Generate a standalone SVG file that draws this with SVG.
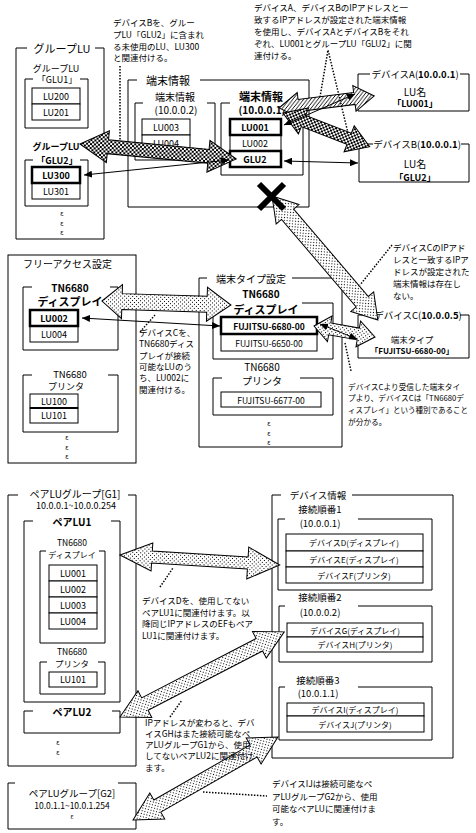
<svg xmlns="http://www.w3.org/2000/svg" width="476" height="833" viewBox="0 0 476 833">
<defs>
<style>
text{font-family:"Noto Sans CJK JP","Noto Sans",sans-serif;fill:#000}
.c{text-anchor:middle;dominant-baseline:central}
.l{dominant-baseline:central}
.b{font-weight:bold}
.a{font-size:8.5px}
.e{font-size:6.5px}
.box{fill:none;stroke:#000;stroke-width:1}
.cell{fill:#fff;stroke:#000;stroke-width:1}
.thick{fill:#fff;stroke:#000;stroke-width:2.5}
.lead{fill:none;stroke:#000;stroke-width:1.5;stroke-dasharray:1.5 1.5}
.arr{stroke:#000;stroke-width:1}
.thin{stroke:#000;stroke-width:1;fill:none;marker-start:url(#ah);marker-end:url(#ah)}
</style>
<pattern id="chk" width="4" height="4" patternUnits="userSpaceOnUse"><rect width="4" height="4" fill="#fff"/><rect width="2" height="2" fill="#000"/><rect x="2" y="2" width="2" height="2" fill="#000"/></pattern>
<pattern id="hat" width="4" height="4" patternUnits="userSpaceOnUse"><rect width="4" height="4" fill="#fff"/><path d="M-1,1 L1,-1 M0,4 L4,0 M3,5 L5,3" stroke="#000" stroke-width="1"/></pattern>
<pattern id="dot" width="4" height="4" patternUnits="userSpaceOnUse"><rect width="4" height="4" fill="#fff"/><rect width="1" height="1" fill="#000"/><rect x="2" y="2" width="1" height="1" fill="#000"/></pattern>
<marker id="ah" markerWidth="8" markerHeight="7" refX="8" refY="3.5" orient="auto-start-reverse" markerUnits="userSpaceOnUse"><path d="M0,0 L8,3.5 L0,7 z" fill="#000"/></marker>
</defs>
<rect width="476" height="833" fill="#fff"/>

<!-- Group LU -->
<g id="groupLU">
<path class="box" d="M27,48 H16 V239 H104 V48 H95"/>
<text class="c" x="62" y="48" font-size="11">グループLU</text>
<text class="c" x="56" y="68" font-size="9">グループLU</text>
<text class="c" x="57" y="79" font-size="9">「GLU1」</text>
<path class="box" d="M33,79 H25 V128 H88 V79 H80"/>
<rect class="cell" x="32" y="88" width="48" height="16"/>
<rect class="cell" x="32" y="104" width="48" height="16"/>
<text class="c" x="56" y="96" font-size="9">LU200</text>
<text class="c" x="56" y="112" font-size="9">LU201</text>
<text class="c b" x="56" y="146" font-size="9">グループLU</text>
<text class="c b" x="57" y="160" font-size="9">「GLU2」</text>
<path class="box" d="M33,160 H25 V206 H88 V160 H80"/>
<rect class="cell" x="32" y="183" width="48" height="16"/>
<rect class="thick" x="32" y="167" width="48" height="16"/>
<text class="c b" x="56" y="175" font-size="9">LU300</text>
<text class="c" x="56" y="191" font-size="9">LU301</text>
<text class="c e" x="62" y="213">ε</text>
<text class="c e" x="62" y="223">ε</text>
<text class="c e" x="62" y="232">ε</text>
</g>

<!-- Terminal info -->
<g id="terminalInfo">
<path class="box" d="M137,80 H128 V207 H309 V80 H200"/>
<text class="c" x="168" y="80" font-size="11">端末情報</text>
<path class="box" d="M143,103 H135 V160 H215 V103 H207"/>
<text class="c" x="175" y="96" font-size="10">端末情報</text>
<text class="c" x="176" y="109" font-size="10">(10.0.0.2)</text>
<rect class="cell" x="142" y="119" width="48" height="16"/>
<rect class="cell" x="142" y="135" width="48" height="16"/>
<text class="c" x="166" y="127" font-size="9">LU003</text>
<text class="c" x="166" y="143" font-size="9">LU004</text>
<path class="box" d="M230,103 H221 V175 H303 V103 H293"/>
<text class="c b" x="261" y="96" font-size="11">端末情報</text>
<text class="c b" x="262" y="109" font-size="10">(10.0.0.1)</text>
<rect class="cell" x="230" y="135" width="51" height="16"/>
<rect class="thick" x="230" y="119" width="51" height="16"/>
<rect class="thick" x="230" y="151" width="51" height="16"/>
<text class="c b" x="255" y="127" font-size="9">LU001</text>
<text class="c" x="255" y="143" font-size="9">LU002</text>
<text class="c b" x="255" y="159" font-size="9">GLU2</text>
</g>

<!-- Device A / B -->
<g id="deviceA">
<path class="box" d="M370,74 H358 V111 H469 V74 H460"/>
<text class="c" x="415" y="74" font-size="9.5">デバイスA(<tspan class="b">10.0.0.1</tspan>)</text>
<text class="c" x="415" y="91" font-size="10">LU名</text>
<text class="c b" x="415" y="103" font-size="9">「LU001」</text>
</g>
<g id="deviceB">
<path class="box" d="M373,144 H359 V182 H469 V144 H461"/>
<text class="c" x="417" y="144" font-size="9.5">デバイスB(<tspan class="b">10.0.0.1</tspan>)</text>
<text class="c" x="415" y="163" font-size="10">LU名</text>
<text class="c b" x="415" y="177" font-size="9">「GLU2」</text>
</g>

<!-- Free access -->
<g id="freeAccess">
<rect class="box" x="8" y="255" width="128" height="208"/>
<text class="l" x="23" y="263" font-size="10">フリーアクセス設定</text>
<path class="box" d="M32,287 H23 V350 H118 V287 H110"/>
<text class="c b" x="70" y="287" font-size="10">TN6680</text>
<text class="c b" x="70" y="301" font-size="11">ディスプレイ</text>
<rect class="cell" x="30" y="326" width="48" height="16"/>
<rect class="thick" x="30" y="310" width="48" height="16"/>
<text class="c b" x="54" y="318" font-size="9">LU002</text>
<text class="c" x="54" y="334" font-size="9">LU004</text>
<path class="box" d="M32,375 H23 V432 H118 V375 H108"/>
<text class="c" x="70" y="374" font-size="9.5">TN6680</text>
<text class="c" x="66" y="386" font-size="9">プリンタ</text>
<rect class="cell" x="30" y="394" width="48" height="14"/>
<rect class="cell" x="30" y="408" width="48" height="15"/>
<line x1="30" y1="408" x2="78" y2="408" stroke="#000" stroke-width="2"/>
<text class="c" x="54" y="401" font-size="9">LU100</text>
<text class="c" x="54" y="415.5" font-size="9">LU101</text>
<text class="c e" x="67" y="437">ε</text>
<text class="c e" x="67" y="447">ε</text>
<text class="c e" x="67" y="456">ε</text>
</g>

<!-- Terminal type -->
<g id="terminalType">
<path class="box" d="M207,278 H199 V447 H342 V278 H292"/>
<text class="c" x="251" y="278" font-size="10">端末タイプ設定</text>
<path class="box" d="M222,303 H213 V359 H333 V303 H302"/>
<text class="c b" x="261" y="293" font-size="10">TN6680</text>
<text class="c b" x="266" y="309" font-size="11">ディスプレイ</text>
<rect class="cell" x="221" y="334" width="96" height="17"/>
<rect class="thick" x="221" y="317" width="96" height="17"/>
<text class="c b" x="269" y="325.5" font-size="8.5">FUJITSU-6680-00</text>
<text class="c" x="269" y="342.5" font-size="8.5">FUJITSU-6650-00</text>
<path class="box" d="M222,378 H213 V415 H333 V378 H300"/>
<text class="c" x="262" y="366" font-size="10">TN6680</text>
<text class="c" x="262" y="380" font-size="10">プリンタ</text>
<rect class="cell" x="221" y="392" width="100" height="15"/>
<text class="c" x="271" y="399.5" font-size="8.5">FUJITSU-6677-00</text>
<text class="c e" x="269" y="423">ε</text>
<text class="c e" x="269" y="433">ε</text>
<text class="c e" x="269" y="442">ε</text>
</g>

<!-- Device C -->
<g id="deviceC">
<path class="box" d="M376,315 H358 V358 H469 V315 H460"/>
<text class="c" x="418" y="315" font-size="9.5">デバイスC(<tspan class="b">10.0.0.5</tspan>)</text>
<text class="c" x="412" y="339" font-size="8.5">端末タイプ</text>
<text class="c b" x="412" y="350" font-size="8">「FUJITSU-6680-00」</text>
</g>

<!-- Pair LU group G1 -->
<g id="pairG1">
<path class="box" d="M18,495 H8 V766 H136 V495 H128"/>
<text class="c" x="75" y="493" font-size="10">ペアLUグループ[G1]</text>
<text class="c" x="76" y="505" font-size="9">10.0.0.1~10.0.0.254</text>
<path class="box" d="M33,521 H24 V702 H120 V521 H111"/>
<text class="c b" x="72" y="521" font-size="10">ペアLU1</text>
<text class="c" x="72" y="542" font-size="8.5">TN6680</text>
<path class="box" d="M46,551 H40 V643 H105 V551 H99"/>
<text class="c" x="72" y="554" font-size="8">ディスプレイ</text>
<rect class="cell" x="49" y="565" width="48" height="16"/>
<rect class="cell" x="49" y="581" width="48" height="16"/>
<rect class="cell" x="49" y="597" width="48" height="16"/>
<rect class="cell" x="49" y="613" width="48" height="16"/>
<text class="c" x="73" y="573" font-size="9">LU001</text>
<text class="c" x="73" y="589" font-size="9">LU002</text>
<text class="c" x="73" y="605" font-size="9">LU003</text>
<text class="c" x="73" y="621" font-size="9">LU004</text>
<text class="c" x="72" y="651" font-size="8.5">TN6680</text>
<path class="box" d="M47,662 H40 V694 H105 V662 H98"/>
<text class="c" x="72" y="663" font-size="8.5">プリンタ</text>
<rect class="cell" x="49" y="672" width="48" height="15"/>
<text class="c" x="73" y="679.5" font-size="9">LU101</text>
</g>
<g id="pairLU2">
<path class="box" d="M33,711 H24 V733 H120 V711 H112"/>
<text class="c b" x="72" y="711" font-size="10">ペアLU2</text>
<text class="c e" x="58" y="742">ε</text>
<text class="c e" x="58" y="752">ε</text>
</g>

<!-- Pair LU group G2 -->
<g id="pairG2">
<path class="box" d="M15,783 H8 V829 H136 V783 H118"/>
<text class="c" x="72" y="793" font-size="9.5">ペアLUグループ[G2]</text>
<text class="c" x="72" y="805" font-size="8.5">10.0.1.1~10.0.1.254</text>
<text class="c" x="72" y="816" font-size="6">ε</text>
</g>

<!-- Device info -->
<g id="deviceInfo">
<path class="box" d="M281,495 H272 V758 H453 V495 H352"/>
<text class="c" x="318" y="495" font-size="9.5">デバイス情報</text>
<text class="c" x="320" y="509" font-size="9.5">接続順番1</text>
<path class="box" d="M285,519 H278 V590 H432 V519 H358"/>
<text class="c" x="320" y="523" font-size="9.5">(10.0.0.1)</text>
<rect class="cell" x="286" y="534" width="137" height="17"/>
<rect class="cell" x="286" y="551" width="137" height="16"/>
<rect class="cell" x="286" y="567" width="137" height="16"/>
<text class="c" x="354" y="542.5" font-size="8">デバイスD(ディスプレイ)</text>
<text class="c" x="354" y="559" font-size="8">デバイスE(ディスプレイ)</text>
<text class="c" x="354" y="575" font-size="8">デバイスF(プリンタ)</text>
<text class="c" x="320" y="597" font-size="9.5">接続順番2</text>
<path class="box" d="M285,606 H279 V662 H432 V606 H358"/>
<text class="c" x="320" y="612" font-size="9.5">(10.0.0.2)</text>
<rect class="cell" x="287" y="623" width="136" height="14"/>
<rect class="cell" x="287" y="637" width="136" height="15"/>
<text class="c" x="355" y="630" font-size="8">デバイスG(ディスプレイ)</text>
<text class="c" x="355" y="644.5" font-size="8">デバイスH(プリンタ)</text>
<text class="c" x="318" y="680" font-size="9.5">接続順番3</text>
<path class="box" d="M285,687 H279 V740 H432 V687 H358"/>
<text class="c" x="318" y="693" font-size="9.5">(10.0.1.1)</text>
<rect class="cell" x="287" y="703" width="137" height="13"/>
<rect class="cell" x="287" y="716" width="137" height="16"/>
<text class="c" x="355" y="709.5" font-size="8">デバイスI(ディスプレイ)</text>
<text class="c" x="355" y="724" font-size="8">デバイスJ(プリンタ)</text>
</g>

<!-- Connectors -->
<g id="connectors">
<polygon class="arr" fill="url(#chk)" transform="translate(80,144) rotate(5.49)" points="0,0 28,-16 28,-7 129,-7 129,-16 157,0 129,16 129,7 28,7 28,16"/>
<polygon class="arr" fill="url(#hat)" transform="translate(279,108) rotate(-7.2)" points="0,0 20,-13 20,-6 76,-6 76,-13 96,0 76,13 76,6 20,6 20,13"/>
<polygon class="arr" fill="url(#chk)" transform="translate(283,113) rotate(21.3)" points="0,0 22,-14 22,-6 71,-6 71,-14 93,0 71,14 71,6 22,6 22,14"/>
<polygon class="arr" fill="url(#dot)" transform="translate(272,196) rotate(49.5)" points="0,0 24,-15 24,-8 139,-8 139,-15 163,0 139,15 139,8 24,8 24,15"/>
<polygon class="arr" fill="url(#dot)" transform="translate(102,301) rotate(1.78)" points="0,0 20,-17 20,-8 105,-8 105,-17 129,0 105,17 105,8 20,8 20,17"/>
<polygon class="arr" fill="url(#dot)" transform="translate(314,326) rotate(10.2)" points="0,0 16,-13 16,-6 45,-6 45,-13 62,0 45,13 45,6 16,6 16,13"/>
<polygon class="arr" fill="url(#dot)" transform="translate(120,555) rotate(3.58)" points="0,0 32,-14 32,-6 128,-6 128,-16 160,0 128,16 128,6 32,6 32,14"/>
<polygon class="arr" fill="url(#dot)" transform="translate(120,717) rotate(-27.4)" points="0,0 28,-15 28,-7 157,-7 157,-15 185,0 157,15 157,7 28,7 28,15"/>
<polygon class="arr" fill="url(#dot)" transform="translate(133,820) rotate(-29.8)" points="0,0 28,-15 28,-7 139,-7 139,-15 167,0 139,15 139,7 28,7 28,15"/>
<line class="thin" x1="84" y1="175" x2="229" y2="160"/>
<line class="thin" x1="284" y1="125" x2="355" y2="94"/>
<line class="thin" x1="284" y1="161" x2="358" y2="163"/>
<line class="thin" x1="82" y1="318" x2="220" y2="326"/>
<line class="thin" x1="320" y1="324" x2="357" y2="339"/>
<path d="M259,184 L284,209 M284,184 L259,209" stroke="#000" stroke-width="6" stroke-linecap="butt"/>
<path class="lead" d="M120,66 V140"/>
<path class="lead" d="M320,97 L328,50 L348,133"/>
<path class="lead" d="M392,245 L360,285"/>
<path class="lead" d="M155,315 L140,332"/>
<path class="lead" d="M345,343 L351,371"/>
<path class="lead" d="M160,587 L173,568"/>
<path class="lead" d="M170,717 L182,700"/>
<path class="lead" d="M203,792 L267,796"/>
</g>

<!-- Annotations -->
<g id="notes">
<text class="l a" x="113" y="22">デバイスBを、グルー</text>
<text class="l a" x="113" y="34">プLU「GLU2」に含まれ</text>
<text class="l a" x="113" y="46">る未使用のLU、LU300</text>
<text class="l a" x="113" y="57">と関連付ける。</text>
<text class="l a" x="254" y="7">デバイスA、デバイスBのIPアドレスと一</text>
<text class="l a" x="254" y="19">致するIPアドレスが設定された端末情報</text>
<text class="l a" x="254" y="31">を使用し、デバイスAとデバイスBをそれ</text>
<text class="l a" x="254" y="43">ぞれ、LU001とグループLU「GLU2」に関</text>
<text class="l a" x="254" y="55">連付ける。</text>
<text class="l a" x="393" y="247">デバイスCのIPアド</text>
<text class="l a" x="393" y="259">レスと一致するIPア</text>
<text class="l a" x="393" y="271">ドレスが設定された</text>
<text class="l a" x="393" y="283">端末情報は存在し</text>
<text class="l a" x="393" y="295">ない。</text>
<text class="l a" x="139" y="332">デバイスCを、</text>
<text class="l a" x="139" y="343">TN6680ディス</text>
<text class="l a" x="139" y="355">プレイが接続</text>
<text class="l a" x="139" y="366">可能なLUのう</text>
<text class="l a" x="139" y="377">ち、LU002に</text>
<text class="l a" x="139" y="389">関連付ける。</text>
<text class="l" x="348" y="386" font-size="7.7">デバイスCより受信した端末タイ</text>
<text class="l" x="348" y="397.5" font-size="7.7">プより、デバイスCは「TN6680デ</text>
<text class="l" x="348" y="409" font-size="7.5">ィスプレイ」という種別であること</text>
<text class="l" x="348" y="421" font-size="7.7">が分かる。</text>
<text class="l a" x="142" y="600">デバイスDを、使用してない</text>
<text class="l a" x="142" y="612">ペアLU1に関連付けます。以</text>
<text class="l a" x="142" y="623">降同じIPアドレスのEFもペア</text>
<text class="l a" x="142" y="635">LU1に関連付けます。</text>
<text class="l a" x="145" y="722">IPアドレスが変わると、デバ</text>
<text class="l a" x="145" y="733">イスGHはまた接続可能なペ</text>
<text class="l a" x="145" y="744">アLUグループG1から、使用</text>
<text class="l a" x="145" y="755">してないペアLU2に関連付け</text>
<text class="l a" x="145" y="767">ます。</text>
<text class="l a" x="272" y="783">デバイスIJは接続可能なペ</text>
<text class="l a" x="272" y="796">アLUグループG2から、使用</text>
<text class="l a" x="272" y="808">可能なペアLUに関連付けま</text>
<text class="l a" x="272" y="821">す。</text>
</g>
</svg>
